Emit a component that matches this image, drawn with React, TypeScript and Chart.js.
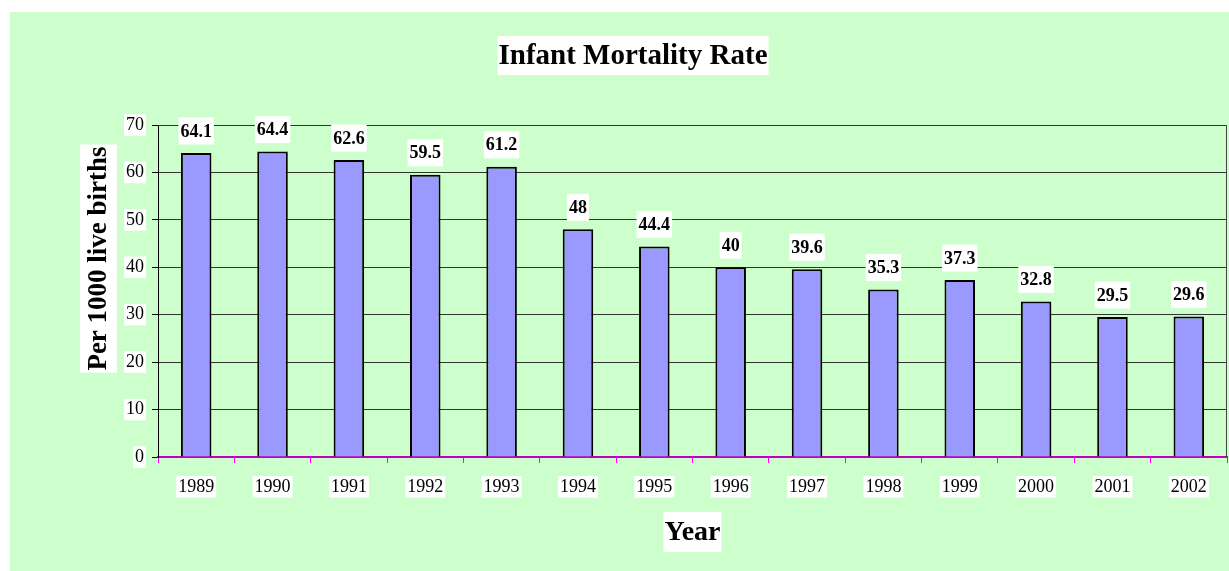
import { useEffect, useRef } from 'react';
import { Chart, registerables } from 'chart.js';

Chart.register(...registerables);

const years = ['1989', '1990', '1991', '1992', '1993', '1994', '1995', '1996', '1997', '1998', '1999', '2000', '2001', '2002'];
const rates = [64.1, 64.4, 62.6, 59.5, 61.2, 48, 44.4, 40, 39.6, 35.3, 37.3, 32.8, 29.5, 29.6];
const yMin = 0;
const yMax = 70;
const yStep = 10;
const chartTitle = 'Infant Mortality Rate';
const xTitle = 'Year';
const yTitle = 'Per 1000 live births';

const FONT = '"Liberation Serif", "Times New Roman", Times, serif';

function drawBoxed(
  ctx: CanvasRenderingContext2D,
  text: string,
  x: number,
  y: number,
  font: string,
  padX: number,
  boxH: number,
  rot: number
) {
  ctx.save();
  ctx.translate(x, y);
  if (rot) ctx.rotate(rot);
  ctx.font = font;
  const w = ctx.measureText(text).width;
  ctx.fillStyle = '#ffffff';
  ctx.fillRect(-w / 2 - padX, -boxH / 2, w + padX * 2, boxH);
  ctx.fillStyle = '#000000';
  ctx.textAlign = 'center';
  ctx.textBaseline = 'middle';
  ctx.fillText(text, 0, 1);
  ctx.restore();
}

const decor = {
  id: 'decor',
  afterDraw(chart: any) {
    const ctx: CanvasRenderingContext2D = chart.ctx;
    const a = chart.chartArea;
    ctx.save();
    ctx.strokeStyle = '#444444';
    ctx.lineWidth = 1;
    ctx.beginPath();
    ctx.moveTo(a.right - 0.5, a.top);
    ctx.lineTo(a.right - 0.5, a.bottom);
    ctx.stroke();
    ctx.restore();

    drawBoxed(ctx, chartTitle, 623, 43.5, 'bold 29px ' + FONT, 1, 39, 0);
    drawBoxed(ctx, xTitle, (a.left + a.right) / 2, 520, 'bold 28px ' + FONT, 1, 40, 0);
    drawBoxed(ctx, yTitle, 88.5, 246.5, 'bold 27px ' + FONT, 2, 37, -Math.PI / 2);

    const meta = chart.getDatasetMeta(0);
    meta.data.forEach((el: any, i: number) => {
      drawBoxed(ctx, String(rates[i]), el.x, el.y - 22, 'bold 18px ' + FONT, 2, 27, 0);
    });
  },
};

export default function App() {
  const ref = useRef<HTMLCanvasElement | null>(null);

  useEffect(() => {
    if (!ref.current) return;
    const chart = new Chart(ref.current, {
      type: 'bar',
      data: {
        labels: years,
        datasets: [
          {
            data: rates,
            backgroundColor: '#9999FF',
            borderColor: '#000000',
            borderWidth: 2,
            categoryPercentage: 1,
            barPercentage: 0.4,
          },
        ],
      },
      options: {
        responsive: false,
        animation: false,
        devicePixelRatio: 1,
        layout: { padding: { left: 0, top: 113, right: 2, bottom: 0 } },
        plugins: {
          legend: { display: false },
          title: { display: false },
          tooltip: { enabled: false },
        },
        scales: {
          x: {
            grid: {
              drawOnChartArea: false,
              drawTicks: true,
              tickLength: 6,
              tickColor: '#FF00FF',
              offset: true,
            },
            border: { color: '#C000C0', width: 2 },
            ticks: {
              color: '#000000',
              font: { family: FONT, size: 18 },
              padding: 13,
              maxRotation: 0,
              autoSkip: false,
              showLabelBackdrop: true,
              backdropColor: '#ffffff',
              backdropPadding: { top: 0, bottom: 0, left: 2, right: 2 },
            },
            afterFit(scale: any) {
              scale.height = 114;
            },
          },
          y: {
            min: yMin,
            max: yMax,
            grid: {
              color: '#333333',
              lineWidth: 1,
              tickLength: 6,
              tickColor: '#000000',
            },
            border: { color: '#000000', width: 1 },
            ticks: {
              stepSize: yStep,
              color: '#000000',
              font: { family: FONT, size: 18 },
              padding: 8,
              showLabelBackdrop: true,
              backdropColor: '#ffffff',
              backdropPadding: { top: 0, bottom: 0, left: 2, right: 2 },
            },
            afterFit(scale: any) {
              scale.width = 148;
            },
          },
        },
      } as any,
      plugins: [decor],
    });
    return () => chart.destroy();
  }, []);

  return (
    <div style={{ position: 'fixed', left: 0, top: 0, width: 1229, height: 571, background: '#ffffff', overflow: 'hidden' }}>
      <canvas
        ref={ref}
        width={1219}
        height={559}
        style={{ position: 'absolute', left: 10, top: 12, width: 1219, height: 559, background: '#CCFFCC' }}
      />
    </div>
  );
}
